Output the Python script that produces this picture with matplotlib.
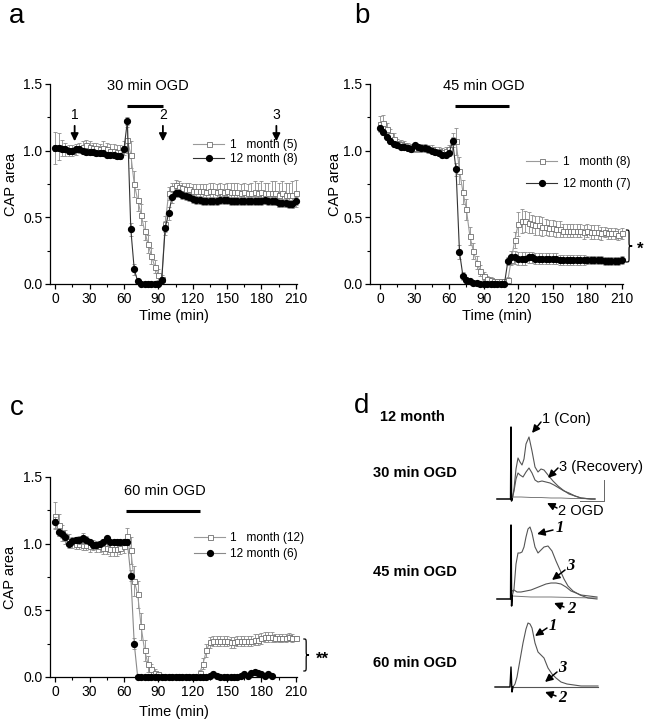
import numpy as np
import matplotlib
matplotlib.use("Agg")
import matplotlib.pyplot as plt
from matplotlib.path import Path
from matplotlib.patches import PathPatch

plt.rcParams['font.family'] = ['Liberation Sans', 'DejaVu Sans']

# time axis (min), one sample every 3 min
t = np.arange(0, 211, 3)

# ---- panel a : 30 min OGD ----
a_1m = [1.02, 1.03, 1.02, 1.01, 1.00, 1.00, 1.01, 1.02, 1.03, 1.04,
        1.03, 1.02, 1.02, 1.01, 1.02, 1.01, 1.00, 1.00, 0.99, 0.99,
        1.02, 1.08, 0.97, 0.75, 0.63, 0.52, 0.40, 0.30, 0.21, 0.13,
        0.07, 0.04, 0.45, 0.68, 0.72, 0.74, 0.73, 0.72, 0.71, 0.71,
        0.70, 0.70, 0.70, 0.70, 0.69, 0.70, 0.70, 0.69, 0.70, 0.69,
        0.70, 0.69, 0.69, 0.69, 0.68, 0.69, 0.68, 0.68, 0.69, 0.68,
        0.69, 0.68, 0.68, 0.68, 0.68, 0.67, 0.68, 0.67, 0.67, 0.67,
        0.68]
a_1m_err = [0.12, 0.10, 0.06, 0.05, 0.04, 0.04, 0.04, 0.04, 0.04, 0.04,
            0.04, 0.04, 0.04, 0.04, 0.05, 0.05, 0.05, 0.05, 0.05, 0.05,
            0.05, 0.10, 0.10, 0.10, 0.08, 0.08, 0.07, 0.07, 0.06, 0.05,
            0.04, 0.03, 0.06, 0.05, 0.04, 0.04, 0.04, 0.04, 0.05, 0.05,
            0.05, 0.05, 0.05, 0.05, 0.06, 0.06, 0.06, 0.06, 0.06, 0.06,
            0.06, 0.07, 0.07, 0.07, 0.07, 0.07, 0.07, 0.08, 0.08, 0.08,
            0.08, 0.08, 0.08, 0.09, 0.09, 0.09, 0.09, 0.09, 0.09, 0.10,
            0.10]
a_12m = [1.02, 1.02, 1.01, 1.01, 1.00, 1.00, 1.01, 1.01, 1.00, 0.99,
         0.99, 0.99, 0.98, 0.98, 0.98, 0.97, 0.97, 0.97, 0.96, 0.96,
         1.01, 1.22, 0.41, 0.11, 0.02, 0.00, 0.00, 0.00, 0.00, 0.00,
         0.00, 0.03, 0.42, 0.53, 0.65, 0.68, 0.68, 0.67, 0.66, 0.65,
         0.64, 0.63, 0.63, 0.62, 0.62, 0.62, 0.62, 0.62, 0.63, 0.63,
         0.63, 0.62, 0.62, 0.62, 0.62, 0.62, 0.62, 0.62, 0.62, 0.62,
         0.62, 0.63, 0.62, 0.62, 0.62, 0.61, 0.61, 0.61, 0.60, 0.60,
         0.62]
a_12m_err = [0.02, 0.02, 0.02, 0.02, 0.02, 0.02, 0.02, 0.02, 0.02, 0.02,
             0.02, 0.02, 0.02, 0.02, 0.02, 0.02, 0.02, 0.02, 0.02, 0.02,
             0.02, 0.03, 0.05, 0.04, 0.02, 0.01, 0.01, 0.01, 0.01, 0.01,
             0.01, 0.02, 0.05, 0.05, 0.04, 0.03, 0.03, 0.03, 0.03, 0.03,
             0.03, 0.03, 0.03, 0.03, 0.03, 0.03, 0.03, 0.03, 0.03, 0.03,
             0.03, 0.03, 0.03, 0.03, 0.03, 0.03, 0.03, 0.03, 0.03, 0.03,
             0.03, 0.03, 0.03, 0.03, 0.03, 0.03, 0.03, 0.03, 0.03, 0.03,
             0.03]

# ---- panel b : 45 min OGD ----
b_1m = [1.20, 1.21, 1.16, 1.12, 1.09, 1.06, 1.05, 1.04, 1.03, 1.02,
        1.02, 1.02, 1.02, 1.02, 1.01, 1.01, 1.00, 1.00, 0.99, 1.00,
        1.01, 1.08, 1.07, 0.85, 0.69, 0.56, 0.36, 0.25, 0.16, 0.10,
        0.06, 0.04, 0.03, 0.02, 0.02, 0.02, 0.02, 0.03, 0.18, 0.33,
        0.45, 0.47, 0.47, 0.46, 0.45, 0.44, 0.44, 0.43, 0.43, 0.42,
        0.42, 0.41, 0.41, 0.40, 0.40, 0.40, 0.40, 0.40, 0.40, 0.39,
        0.40, 0.39, 0.39, 0.39, 0.38, 0.39, 0.38, 0.38, 0.38, 0.37,
        0.38]
b_1m_err = [0.06, 0.06, 0.05, 0.04, 0.04, 0.03, 0.03, 0.03, 0.03, 0.03,
            0.03, 0.03, 0.03, 0.03, 0.03, 0.03, 0.03, 0.03, 0.03, 0.03,
            0.03, 0.05, 0.10, 0.10, 0.09, 0.08, 0.07, 0.06, 0.05, 0.04,
            0.03, 0.02, 0.02, 0.02, 0.02, 0.02, 0.02, 0.02, 0.04, 0.06,
            0.09, 0.09, 0.08, 0.08, 0.07, 0.07, 0.07, 0.07, 0.06, 0.06,
            0.06, 0.06, 0.06, 0.05, 0.05, 0.05, 0.05, 0.05, 0.05, 0.05,
            0.05, 0.05, 0.05, 0.05, 0.05, 0.04, 0.04, 0.04, 0.04, 0.04,
            0.04]
b_12m = [1.17, 1.14, 1.10, 1.07, 1.05, 1.04, 1.03, 1.03, 1.02, 1.01,
         1.04, 1.03, 1.02, 1.02, 1.01, 1.00, 0.99, 0.98, 0.97, 0.97,
         0.98, 1.07, 0.86, 0.24, 0.06, 0.03, 0.02, 0.01, 0.01, 0.00,
         0.00, 0.00, 0.00, 0.00, 0.00, 0.00, 0.00, 0.17, 0.20, 0.20,
         0.19, 0.19, 0.19, 0.20, 0.20, 0.19, 0.19, 0.19, 0.19, 0.19,
         0.19, 0.19, 0.18, 0.18, 0.18, 0.18, 0.18, 0.18, 0.18, 0.18,
         0.18, 0.18, 0.18, 0.18, 0.18, 0.17, 0.17, 0.17, 0.17, 0.17,
         0.18]
b_12m_err = [0.02, 0.02, 0.02, 0.02, 0.02, 0.02, 0.02, 0.02, 0.02, 0.02,
             0.02, 0.02, 0.02, 0.02, 0.02, 0.02, 0.02, 0.02, 0.02, 0.02,
             0.02, 0.03, 0.05, 0.05, 0.03, 0.02, 0.01, 0.01, 0.01, 0.01,
             0.01, 0.01, 0.01, 0.01, 0.01, 0.01, 0.01, 0.03, 0.05, 0.05,
             0.05, 0.05, 0.05, 0.04, 0.04, 0.04, 0.04, 0.04, 0.04, 0.04,
             0.04, 0.04, 0.04, 0.04, 0.04, 0.04, 0.04, 0.04, 0.04, 0.04,
             0.03, 0.03, 0.03, 0.03, 0.03, 0.03, 0.03, 0.03, 0.03, 0.03,
             0.03]

# ---- panel c : 60 min OGD ----
c_1m = [1.21, 1.14, 1.08, 1.05, 1.02, 1.01, 1.00, 1.00, 0.99, 0.99,
        0.98, 0.99, 0.98, 0.98, 0.97, 0.97, 0.96, 0.96, 0.96, 0.97,
        0.98, 1.06, 0.95, 0.72, 0.62, 0.38, 0.20, 0.10, 0.06, 0.03,
        0.02, 0.01, 0.01, 0.01, 0.01, 0.01, 0.01, 0.01, 0.01, 0.01,
        0.01, 0.00, 0.03, 0.10, 0.20, 0.26, 0.27, 0.27, 0.27, 0.27,
        0.27, 0.26, 0.26, 0.27, 0.27, 0.27, 0.27, 0.27, 0.28, 0.28,
        0.29, 0.30, 0.30, 0.30, 0.29, 0.29, 0.29, 0.29, 0.30, 0.29,
        0.29]
c_1m_err = [0.10, 0.08, 0.06, 0.05, 0.05, 0.04, 0.04, 0.04, 0.04, 0.04,
            0.04, 0.04, 0.04, 0.04, 0.05, 0.05, 0.05, 0.05, 0.05, 0.05,
            0.05, 0.06, 0.10, 0.11, 0.10, 0.10, 0.08, 0.06, 0.04, 0.03,
            0.02, 0.01, 0.01, 0.01, 0.01, 0.01, 0.01, 0.01, 0.01, 0.01,
            0.01, 0.01, 0.02, 0.04, 0.05, 0.04, 0.04, 0.04, 0.04, 0.04,
            0.04, 0.04, 0.04, 0.04, 0.04, 0.04, 0.04, 0.04, 0.04, 0.04,
            0.04, 0.04, 0.04, 0.04, 0.03, 0.03, 0.03, 0.03, 0.03, 0.03,
            0.02]
nan = np.nan
c_12m = [1.16, 1.09, 1.07, 1.05, 1.00, 1.02, 1.03, 1.03, 1.04, 1.03,
         1.01, 0.99, 0.99, 1.00, 1.01, 1.04, 1.01, 1.01, 1.01, 1.01,
         1.01, 1.01, 0.76, 0.25, 0.00, 0.00, 0.00, 0.00, 0.00, 0.00,
         0.00, 0.00, 0.00, 0.00, 0.00, 0.00, 0.00, 0.00, 0.00, 0.00,
         0.00, 0.00, 0.00, 0.00, 0.00, 0.01, 0.02, 0.01, 0.00, 0.00,
         0.00, 0.00, 0.00, 0.00, 0.01, 0.02, 0.01, 0.03, 0.04, 0.03,
         0.02, 0.01, 0.02, 0.01, nan, nan, nan, nan, nan, nan,
         nan]
c_12m_err = [0.04, 0.03, 0.03, 0.03, 0.02, 0.02, 0.02, 0.03, 0.04, 0.03,
             0.02, 0.02, 0.02, 0.02, 0.02, 0.02, 0.02, 0.02, 0.02, 0.02,
             0.02, 0.02, 0.04, 0.04, 0.01, 0.01, 0.01, 0.01, 0.01, 0.01,
             0.01, 0.01, 0.01, 0.01, 0.01, 0.01, 0.01, 0.01, 0.01, 0.01,
             0.01, 0.01, 0.01, 0.01, 0.01, 0.01, 0.01, 0.01, 0.01, 0.01,
             0.01, 0.01, 0.01, 0.01, 0.01, 0.01, 0.01, 0.01, 0.01, 0.01,
             0.01, 0.01, 0.01, 0.01, nan, nan, nan, nan, nan, nan,
             nan]

labels_a = ["1   month (5)", "12 month (8)"]
labels_b = ["1   month (8)", "12 month (7)"]
labels_c = ["1   month (12)", "12 month (6)"]

# OGD periods (min) as drawn by the bars
ogd_a = (63, 94)
ogd_b = (65, 112)
ogd_c = (61.5, 126)

# ---- panel d : CAP traces (time in arbitrary units from stimulus, amplitude in arbitrary units) ----
spike1_t = [-14, -0.4, 0, 0.5, 1.2]
spike1_a = [0, 0, 72, -2, 0]
con1_t = [1.2, 3, 5, 7, 9, 11, 13, 15, 18, 21, 24, 27, 30, 33, 37, 42, 47, 52, 58, 64, 70, 80, 84]
con1_a = [0, 10, 30, 41, 37, 34, 40, 55, 62, 48, 32, 27, 30, 29, 24, 18, 13, 9, 5, 3, 1, 0, 0]
rec1_t = [1.2, 3, 5, 7, 9, 12, 15, 18, 21, 24, 27, 31, 35, 39, 43, 48, 53, 58, 64, 70, 80, 84]
rec1_a = [0, 8, 20, 26, 24, 22, 27, 31, 26, 19, 17, 18, 17, 16, 14, 11, 8, 6, 3, 1, 0, 0]
ogd1_t = [1.2, 10, 20, 30, 40, 50, 60, 70, 84]
ogd1_a = [2, 2, 1.5, 1.5, 1, 1, 0.5, 0.5, 0]

spike2_t = [-14, -0.4, 0, 0.6, 1.2]
spike2_a = [0, 0, 74, -7, 3]
con2_t = [1.2, 3, 5, 7, 9, 11, 13, 15, 17, 19, 21, 24, 27, 30, 33, 37, 41, 45, 49, 53, 57, 62, 69, 77, 86]
con2_a = [3, 10, 35, 46, 46, 47, 52, 62, 70, 72, 66, 52, 46, 49, 52, 53, 48, 38, 29, 20, 13, 8, 4, 1, 0]
rec2_t = [1.2, 3, 6, 10, 15, 20, 25, 30, 35, 40, 45, 50, 55, 60, 65, 70, 78, 86]
rec2_a = [8, 9, 7, 7, 8, 9, 11, 13, 15, 16, 16, 15, 12, 8, 6, 4, 3, 2]
ogd2_t = [1.2, 20, 40, 60, 86]
ogd2_a = [3, 2, 2, 1.5, 1]

spike3_t = [-16, -1, 0, 1, 2]
spike3_a = [0, 0, 20, -5, 0]
con3_t = [2, 4, 6, 9, 12, 15, 17, 19, 21, 24, 27, 30, 33, 37, 41, 45, 50, 56, 63, 70, 80, 87]
con3_a = [0, 3, 10, 27, 44, 58, 64, 63, 59, 44, 35, 32, 29, 19, 13, 9, 5, 3, 2, 1, 1, 1]
flat3_t = [2, 30, 60, 87]
flat3_a = [0, 0, 0, 0]

W, H = 645, 720
fig = plt.figure(figsize=(W / 100, H / 100), dpi=100)


def box(x0, y0, x1, y1):
    return [x0 / W, 1 - y1 / H, (x1 - x0) / W, (y1 - y0) / H]


def panel(ax, xmin, y1, e1, y12, e12, labels, ogd, title, bar_y, title_y, leg_xy, leg_sp,
          line12='#333333'):
    ax.errorbar(t, y1, yerr=e1, fmt='none', ecolor='#8c8c8c', elinewidth=0.6,
                capsize=1.6, capthick=0.6, clip_on=False)
    ax.plot(t, y1, '-s', color='#9a9a9a', lw=0.8, ms=3.6, mfc='white', mec='#6f6f6f',
            mew=0.6, label=labels[0], clip_on=False)
    ax.errorbar(t, y12, yerr=e12, fmt='none', ecolor='#8c8c8c', elinewidth=0.6,
                capsize=1.6, capthick=0.6, clip_on=False)
    ax.plot(t, y12, '-o', color=line12, lw=0.8, ms=4.2, mfc='black', mec='black',
            label=labels[1], clip_on=False)
    ax.set_xlim(xmin, 211)
    ax.set_ylim(0, 1.5)
    ax.set_xticks(range(0, 211, 30))
    ax.set_xticks(range(15, 211, 30), minor=True)
    ax.set_yticks([0, 0.5, 1.0, 1.5])
    ax.set_yticklabels(['0.0', '0.5', '1.0', '1.5'])
    ax.set_yticks([0.25, 0.75, 1.25], minor=True)
    ax.tick_params(which='major', direction='out', length=3.5, width=0.9, labelsize=10, pad=2)
    ax.tick_params(which='minor', direction='out', length=2, width=0.8)
    for s in ['top', 'right']:
        ax.spines[s].set_visible(False)
    for s in ['left', 'bottom']:
        ax.spines[s].set_linewidth(0.9)
    ax.set_xlabel('Time (min)', fontsize=10.5)
    ax.set_ylabel('CAP area', fontsize=10.5)
    ax.plot(ogd, [bar_y, bar_y], color='black', lw=2.2, solid_capstyle='butt', clip_on=False)
    ax.text(sum(ogd) / 2 + 2, title_y, title, ha='center', va='center', fontsize=10.5)
    ax.legend(loc='upper left', bbox_to_anchor=leg_xy, frameon=False, fontsize=8.6,
              handlelength=2.6, handletextpad=0.45, labelspacing=leg_sp, borderpad=0,
              borderaxespad=0, numpoints=1)


ax_a = fig.add_axes(box(50, 84, 297, 284))
panel(ax_a, -4.5, a_1m, a_1m_err, a_12m, a_12m_err, labels_a, ogd_a, '30 min OGD',
      1.335, 1.485, (0.58, 0.725), 0.2)
ax_a.yaxis.set_label_coords(-0.128, 0.5)
ax_a.xaxis.set_label_coords(0.5, -0.125)
for lab, x in [('1', 17), ('2', 94), ('3', 193)]:
    ax_a.annotate(lab, xy=(x, 1.07), xytext=(x, 1.27), ha='center', va='center', fontsize=10,
                  arrowprops=dict(arrowstyle='-|>,head_length=0.45,head_width=0.22',
                                  color='black', lw=1.3, shrinkA=1, shrinkB=0))

ax_b = fig.add_axes(box(370, 84, 623, 284))
panel(ax_b, -8.7, b_1m, b_1m_err, b_12m, b_12m_err, labels_b, ogd_b, '45 min OGD',
      1.335, 1.485, (0.617, 0.64), 0.85)
ax_b.yaxis.set_label_coords(-0.112, 0.5)
ax_b.xaxis.set_label_coords(0.5, -0.125)

ax_c = fig.add_axes(box(50, 477, 297, 677))
panel(ax_c, -4.5, c_1m, c_1m_err, c_12m, c_12m_err, labels_c, ogd_c, '60 min OGD',
      1.247, 1.397, (0.583, 0.725), 0.35, line12='#8a8a8a')
ax_c.yaxis.set_label_coords(-0.135, 0.5)
ax_c.xaxis.set_label_coords(0.5, -0.14)


def brace(ax, x, y0, y1, w):
    h = y1 - y0
    m = (y0 + y1) / 2
    k = 0.14 * h
    verts = [(x, y1), (x + w / 2, y1), (x + w / 2, y1), (x + w / 2, y1 - k),
             (x + w / 2, m + k),
             (x + w / 2, m), (x + w / 2, m), (x + w, m),
             (x + w / 2, m), (x + w / 2, m), (x + w / 2, m - k),
             (x + w / 2, y0 + k),
             (x + w / 2, y0), (x + w / 2, y0), (x, y0)]
    codes = [Path.MOVETO, Path.CURVE4, Path.CURVE4, Path.CURVE4, Path.LINETO,
             Path.CURVE4, Path.CURVE4, Path.CURVE4,
             Path.CURVE4, Path.CURVE4, Path.CURVE4, Path.LINETO,
             Path.CURVE4, Path.CURVE4, Path.CURVE4]
    ax.add_patch(PathPatch(Path(verts, codes), fill=False, lw=0.9, color='black', clip_on=False))


brace(ax_b, 213.5, 0.165, 0.405, 5.5)
ax_b.text(226, 0.26, '*', ha='center', va='center', fontsize=12, fontweight='bold')
brace(ax_c, 216.5, 0.045, 0.285, 5)
ax_c.text(233, 0.13, '**', ha='center', va='center', fontsize=12, fontweight='bold')

# panel letters
for lab, x, y in [('a', 17, 16), ('b', 362, 16), ('c', 17, 408), ('d', 362, 406)]:
    fig.text(x / W, 1 - y / H, lab, fontsize=20, ha='center', va='center')

# ---- panel d ----
fig.text(412 / W, 1 - 417 / H, '12 month', fontsize=10.5, fontweight='bold', ha='center', va='center')
for txt, y in [('30 min OGD', 473), ('45 min OGD', 572), ('60 min OGD', 663)]:
    fig.text(415 / W, 1 - y / H, txt, fontsize=10.5, fontweight='bold', ha='center', va='center')


def trace_ax(y_base):
    ax = fig.add_axes(box(491, y_base - 80, 611, y_base + 15))
    ax.set_xlim(-20, 100)
    ax.set_ylim(-15, 80)
    ax.axis('off')
    ax.patch.set_alpha(0)
    return ax


def label_arrow(ax, text, head, tail, text_xy, **font):
    ax.annotate('', xy=head, xytext=tail, annotation_clip=False,
                arrowprops=dict(arrowstyle='-|>,head_length=0.45,head_width=0.22',
                                color='black', lw=1.1, shrinkA=0, shrinkB=0))
    ax.text(text_xy[0], text_xy[1], text, ha='left', va='center', **font)


sans = dict(fontsize=10.5)
num_font = dict(family='Liberation Serif', style='italic', fontweight='bold', fontsize=12)

d1 = trace_ax(499)
d1.plot(ogd1_t, ogd1_a, color='#7a7a7a', lw=0.7)
d1.plot(rec1_t, rec1_a, color='#555555', lw=0.8)
d1.plot(con1_t, con1_a, color='#555555', lw=0.8)
d1.plot(spike1_t, spike1_a, color='black', lw=1.1)
d1.plot([69, 93, 93], [-2, -2, 19], color='#666666', lw=0.7)
label_arrow(d1, '1 (Con)', (21, 66), (30, 77), (31, 80), **sans)
label_arrow(d1, '3 (Recovery)', (37, 21), (47, 31), (48, 32), **sans)
label_arrow(d1, '2 OGD', (36, -4), (46, -9), (47, -12), **sans)

d2 = trace_ax(599)
d2.plot(ogd2_t, ogd2_a, color='#7a7a7a', lw=0.7)
d2.plot(rec2_t, rec2_a, color='#555555', lw=0.8)
d2.plot(con2_t, con2_a, color='#555555', lw=0.8)
d2.plot(spike2_t, spike2_a, color='black', lw=1.1)
label_arrow(d2, '1', (26, 65), (42, 69), (45, 71), **num_font)
label_arrow(d2, '3', (41, 19), (54, 29), (55, 33), **num_font)
label_arrow(d2, '2', (43, -4), (53, -8), (56, -10), **num_font)

d3 = trace_ax(687)
d3.plot(flat3_t, flat3_a, color='#555555', lw=0.8)
d3.plot(con3_t, con3_a, color='#555555', lw=0.8)
d3.plot(spike3_t, spike3_a, color='black', lw=1.0)
label_arrow(d3, '1', (24, 51), (36, 59), (38, 61), **num_font)
label_arrow(d3, '3', (34, 5), (46, 15), (47, 19), **num_font)
label_arrow(d3, '2', (34, -5), (45, -9), (47, -11), **num_font)

fig.savefig('out.png', dpi=100)
